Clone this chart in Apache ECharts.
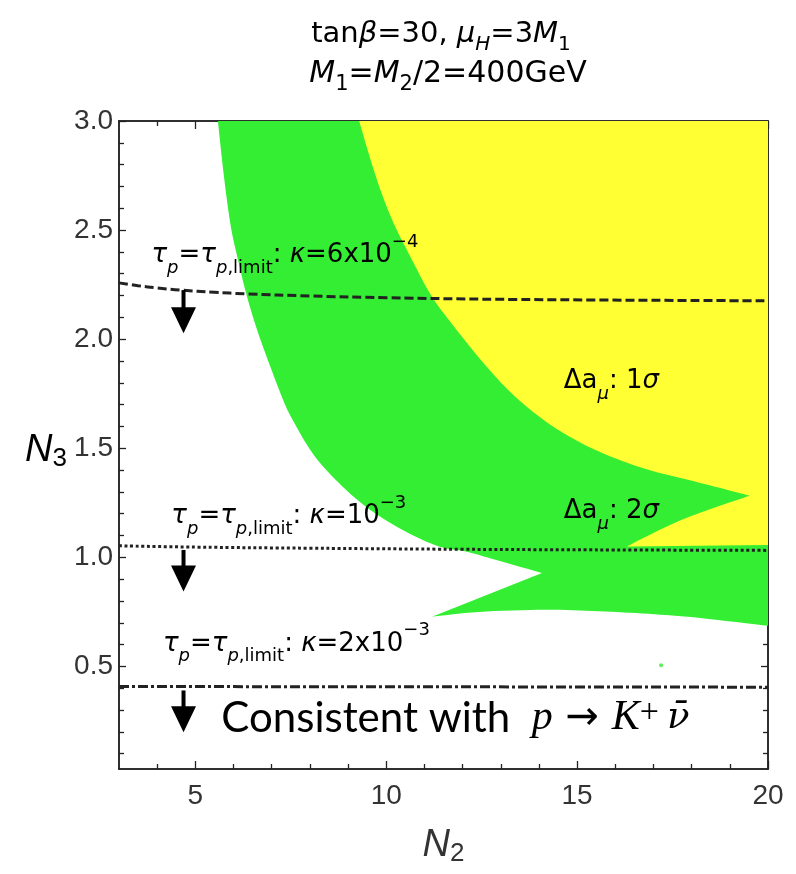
<!DOCTYPE html>
<html>
<head>
<meta charset="utf-8">
<script src="https://cdn.jsdelivr.net/npm/echarts@6/dist/echarts.min.js"></script>
<style>html,body{margin:0;padding:0;background:#fff}#c{width:796px;height:874px}</style>
</head>
<body>
<div id="c"></div>
<script>
// ---------- data ----------
const xMajorTicks = [5, 10, 15, 20];
const xMinorTicks = [4, 6, 7, 8, 9, 11, 12, 13, 14, 16, 17, 18, 19];
const yMajorTicks = [0.5, 1.0, 1.5, 2.0, 2.5, 3.0];
const yMinorTicks = [0.1, 0.2, 0.3, 0.4, 0.6, 0.7, 0.8, 0.9, 1.1, 1.2, 1.3, 1.4, 1.6, 1.7, 1.8, 1.9, 2.1, 2.2, 2.3, 2.4, 2.6, 2.7, 2.8, 2.9];

// Δa_mu 2σ region (green): boundary pieces [N2, N3], joined by straight segments
const green2SigmaTop = [[5.59, 3.0], [20, 3.0]];
const green2SigmaRight = [[20, 3.0], [20, 0.686]];
const green2SigmaLower = [[20, 0.686], [18.17, 0.723], [16.87, 0.741], [15.56, 0.753], [14.18, 0.760], [12.43, 0.750], [11.20, 0.728]];
const green2SigmaWedge = [[11.20, 0.728], [14.08, 0.928]];
const green2SigmaUpper = [[14.08, 0.928], [12.86, 0.989], [12.08, 1.027], [11.38, 1.050], [10.42, 1.126], [9.46, 1.233], [8.68, 1.355], [8.07, 1.477], [7.55, 1.630], [7.30, 1.721], [6.90, 1.904], [6.59, 2.057], [6.33, 2.210], [6.12, 2.362], [5.93, 2.515], [5.75, 2.744], [5.59, 3.0]];

// Δa_mu 1σ region (yellow)
const yellow1SigmaTop = [[9.29, 3.0], [20, 3.0]];
const yellow1SigmaRight = [[20, 3.0], [20, 1.057]];
const yellow1SigmaBottom = [[20, 1.057], [16.30, 1.050]];
const yellow1SigmaWedge = [[16.30, 1.050], [17.74, 1.172], [19.52, 1.283]];
const yellow1SigmaUpper = [[19.52, 1.283], [18.61, 1.324], [17.74, 1.363], [16.87, 1.401], [16.00, 1.454], [15.12, 1.523], [14.25, 1.614], [13.38, 1.736], [12.65, 1.870], [11.90, 2.030], [11.20, 2.194], [10.68, 2.362], [10.16, 2.545], [9.73, 2.744], [9.29, 3.0]];

// proton-lifetime limit curves
const kappa6e4 = [[3, 2.258], [3.5, 2.245], [4, 2.235], [4.6, 2.225], [5.5, 2.215], [6.3, 2.208], [8, 2.198], [10, 2.190], [13.5, 2.182], [20, 2.176]];
const kappa1e3 = [[3, 1.053], [5, 1.047], [8, 1.042], [12, 1.037], [16, 1.034], [20, 1.032]];
const kappa2e3 = [[3, 0.408], [10, 0.407], [20, 0.405]];
const isolatedPoint = [[17.2, 0.505]];
// arrows: [N2, N3 start, N3 tip]
const arrows = [[4.69, 2.225, 2.027], [4.69, 1.034, 0.843], [4.69, 0.390, 0.198]];
// annotation anchors [N2, N3] (left, middle) and texts
const annotationAnchors = [[3.85, 2.385], [4.37, 1.187], [4.15, 0.604], [14.65, 1.805], [14.65, 1.213], [5.68, 0.262]];
const annotationTexts = [
  '{it|τ}{subi|p}{n|=}{it|τ}{subi|p}{sub|,limit}{n|: }{it|κ}{n|=6x10}{sup|−4}',
  '{it|τ}{subi|p}{n|=}{it|τ}{subi|p}{sub|,limit}{n|: }{it|κ}{n|=10}{sup|−3}',
  '{it|τ}{subi|p}{n|=}{it|τ}{subi|p}{sub|,limit}{n|: }{it|κ}{n|=2x10}{sup|−3}',
  '{n|Δa}{subi|μ}{n|: 1}{it|σ}',
  '{n|Δa}{subi|μ}{n|: 2}{it|σ}',
  '{g|Consistent with  }{m|p}{ar| → }{m|K}{msup|+}{nu|ν̄}'
];
const titleLine1 = '{n|tan}{it|β}{n|=30, }{it|μ}{subi|H}{n|=3}{it|M}{sub|1}';
const titleLine2 = '{it|M}{sub|1}{n|=}{it|M}{sub|2}{n|/2=400GeV}';

// ---------- styles ----------
const SANS = 'Liberation Sans, Arial, sans-serif';
const WIDE = 'DejaVu Sans, Verdana, sans-serif';
const SERIF = 'Liberation Serif, Times New Roman, serif';
const GREEN = '#33ee33';
const YELLOW = '#ffff33';
const INK = '#222';
const TXT = '#333';

function richSet(main, small, lh) {
  return {
    n:    {fontFamily: WIDE, fontSize: main, lineHeight: lh, color: TXT},
    it:   {fontFamily: WIDE, fontSize: main, lineHeight: lh, fontStyle: 'italic', color: TXT},
    sub:  {fontFamily: WIDE, fontSize: small, lineHeight: small + 7, verticalAlign: 'bottom', color: TXT},
    subi: {fontFamily: WIDE, fontSize: small, lineHeight: small + 7, verticalAlign: 'bottom', fontStyle: 'italic', color: TXT},
    sup:  {fontFamily: WIDE, fontSize: small, lineHeight: small, verticalAlign: 'top', color: TXT},
    g:    {fontFamily: 'Lato, Open Sans, sans-serif', fontSize: 42, lineHeight: lh, color: '#000'},
    m:    {fontFamily: SERIF, fontSize: 42, fontStyle: 'italic', lineHeight: lh, color: '#000'},
    nu:   {fontFamily: 'DejaVu Serif, serif', fontSize: 37, fontStyle: 'italic', lineHeight: lh, color: '#000', padding: [0, 0, 0, 8]},
    ar:   {fontFamily: WIDE, fontSize: 40, lineHeight: lh, color: '#000'},
    msup: {fontFamily: SERIF, fontSize: 34, lineHeight: 32, verticalAlign: 'top', color: '#000'}
  };
}
const annoRich = richSet(26, 18, 44);

// Catmull-Rom smoothing of each boundary piece in pixel space (drawing only)
function smoothPiece(px, steps) {
  if (px.length < 3) return px.slice();
  const out = [];
  const n = px.length;
  for (let i = 0; i < n - 1; i++) {
    const p0 = px[Math.max(i - 1, 0)], p1 = px[i], p2 = px[i + 1], p3 = px[Math.min(i + 2, n - 1)];
    for (let s = 0; s < steps; s++) {
      const t = s / steps, t2 = t * t, t3 = t2 * t;
      const f = k => 0.5 * ((2 * p1[k]) + (-p0[k] + p2[k]) * t + (2 * p0[k] - 5 * p1[k] + 4 * p2[k] - p3[k]) * t2 + (-p0[k] + 3 * p1[k] - 3 * p2[k] + p3[k]) * t3);
      out.push([f(0), f(1)]);
    }
  }
  out.push(px[n - 1]);
  return out;
}
function regionRenderer(pieces, color) {
  return function (params, api) {
    if (params.dataIndex !== 0) return null;
    let pts = [];
    pieces.forEach(piece => {
      const sm = smoothPiece(piece.map(p => api.coord(p)), 8);
      pts = pts.concat(pts.length ? sm.slice(1) : sm);
    });
    return {type: 'polygon', shape: {points: pts}, style: {fill: color}, silent: true};
  };
}

function arrowRenderer(params, api) {
  const x = api.value(0);
  const p1 = api.coord([x, api.value(1)]);
  const p2 = api.coord([x, api.value(2)]);
  const headL = 26, headW = 12.5;
  return {
    type: 'group',
    children: [
      {type: 'line', shape: {x1: p1[0], y1: p1[1], x2: p2[0], y2: p2[1] - headL + 2}, style: {stroke: '#000', lineWidth: 4}},
      {type: 'polygon', shape: {points: [[p2[0] - headW, p2[1] - headL], [p2[0] + headW, p2[1] - headL], [p2[0], p2[1]]]}, style: {fill: '#000'}}
    ]
  };
}

function textRenderer(params, api) {
  const p = api.coord([api.value(0), api.value(1)]);
  return {
    type: 'text', x: p[0], y: p[1],
    style: {text: annotationTexts[params.dataIndex], rich: annoRich, align: 'left', verticalAlign: 'middle'}
  };
}

function xAxisDef(pos, major) {
  return {
    type: 'value', position: pos, min: 3, max: 20,
    axisLine: {show: true, onZero: false, lineStyle: {color: INK, width: 1.5}},
    axisTick: {show: true, inside: true, length: major ? 8 : 5, customValues: major ? xMajorTicks : xMinorTicks, lineStyle: {color: INK, width: 1.3}},
    axisLabel: (pos === 'bottom' && major) ? {show: true, customValues: xMajorTicks, fontFamily: SANS, fontSize: 28, color: TXT, margin: 13} : {show: false},
    splitLine: {show: false}
  };
}
function yAxisDef(pos, major) {
  return {
    type: 'value', position: pos, min: 0.03, max: 3.0,
    axisLine: {show: true, onZero: false, lineStyle: {color: INK, width: 1.5}},
    axisTick: {show: true, inside: true, length: major ? 7 : 5, customValues: major ? yMajorTicks : yMinorTicks, lineStyle: {color: INK, width: 1.3}},
    axisLabel: (pos === 'left' && major) ? {show: true, customValues: yMajorTicks, formatter: v => v.toFixed(1), fontFamily: SANS, fontSize: 28, color: TXT, margin: 6} : {show: false},
    splitLine: {show: false}
  };
}

const nameRich = {
  it: {fontFamily: SANS, fontStyle: 'italic', fontSize: 38, lineHeight: 44, color: TXT},
  sub: {fontFamily: SANS, fontSize: 26, lineHeight: 34, verticalAlign: 'bottom', color: TXT}
};
const xAxes = [xAxisDef('bottom', true), xAxisDef('bottom', false), xAxisDef('top', true), xAxisDef('top', false)];
xAxes[0].name = '{it|N}{sub|2}';
xAxes[0].nameLocation = 'middle';
xAxes[0].nameGap = 54;
xAxes[0].nameTextStyle = {rich: nameRich};
const yAxes = [yAxisDef('left', true), yAxisDef('left', false), yAxisDef('right', true), yAxisDef('right', false)];

const chart = echarts.init(document.getElementById('c'), null, {renderer: 'canvas'});
chart.setOption({
  animation: false,
  backgroundColor: '#fff',
  grid: {left: 119, right: 28, top: 121, bottom: 105, containLabel: false},
  xAxis: xAxes,
  yAxis: yAxes,
  graphic: [
    {type: 'text', x: 441, y: 34, style: {text: titleLine1, rich: richSet(29, 20, 42), align: 'center', verticalAlign: 'middle'}},
    {type: 'text', x: 448, y: 74, style: {text: titleLine2, rich: richSet(30, 21, 42), align: 'center', verticalAlign: 'middle'}},
    {type: 'text', x: 46, y: 450, style: {text: '{it|N}{sub|3}', rich: nameRich, align: 'center', verticalAlign: 'middle'}}
  ],
  series: [
    {type: 'custom', name: '2σ', renderItem: regionRenderer([green2SigmaTop, green2SigmaRight, green2SigmaLower, green2SigmaWedge, green2SigmaUpper], GREEN), data: [green2SigmaTop[0]], z: 1, silent: true},
    {type: 'custom', name: '1σ', renderItem: regionRenderer([yellow1SigmaTop, yellow1SigmaRight, yellow1SigmaBottom, yellow1SigmaWedge, yellow1SigmaUpper], YELLOW), data: [yellow1SigmaTop[0]], z: 2, silent: true},
    {type: 'scatter', data: isolatedPoint, symbolSize: 4, itemStyle: {color: GREEN}, z: 3, silent: true},
    {type: 'line', data: kappa6e4, smooth: 0.4, showSymbol: false, symbol: 'none', lineStyle: {color: INK, width: 3, type: [9, 4]}, z: 4, silent: true},
    {type: 'line', data: kappa1e3, smooth: 0.4, showSymbol: false, symbol: 'none', lineStyle: {color: INK, width: 3, type: [3, 2.6]}, z: 4, silent: true},
    {type: 'line', data: kappa2e3, showSymbol: false, symbol: 'none', lineStyle: {color: INK, width: 3, type: [10, 3, 3, 3]}, z: 4, silent: true},
    {type: 'custom', renderItem: arrowRenderer, data: arrows, encode: {x: 0, y: [1, 2]}, z: 5, silent: true},
    {type: 'custom', renderItem: textRenderer, data: annotationAnchors, z: 6, silent: true}
  ]
});
</script>
</body>
</html>
